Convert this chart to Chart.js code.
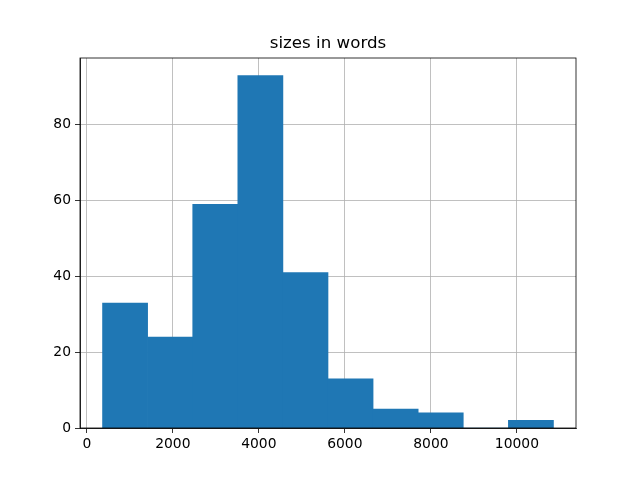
<!DOCTYPE html>
<html>
<head>
<meta charset="utf-8">
<script src="https://cdn.jsdelivr.net/npm/chart.js@4.4.1/dist/chart.umd.min.js"></script>
<style>
  html, body { margin: 0; padding: 0; background: #fff; }
  #wrap { width: 640px; height: 480px; }
</style>
</head>
<body>
<div id="wrap"><canvas id="chart_hist" width="640" height="480"></canvas></div>
<script>
// histogram of sizes in words, bins
const binEdges = [366, 1414, 2463, 3511, 4560, 5608, 6656, 7705, 8753, 9802, 10850];
const counts = [33, 24, 59, 93, 41, 13, 5, 4, 0, 2];
const xTicks = [0, 2000, 4000, 6000, 8000, 10000];
const yTicks = [0, 20, 40, 60, 80];

// bars sit at bin centres, width comes from spacing
const points = counts.map((c, i) => ({ x: (binEdges[i] + binEdges[i + 1]) / 2, y: c }));
const span = binEdges[binEdges.length - 1] - binEdges[0];

// top and right spines like matplotlib
const frame = {
    id: 'frame',
    afterDraw(chart) {
        const a = chart.chartArea, c = chart.ctx;
        c.save();
        c.strokeStyle = '#000';
        c.lineWidth = 0.8;
        c.strokeRect(a.left, a.top, a.right - a.left, a.bottom - a.top);
        c.restore();
    }
};

const ctx = document.getElementById('chart_hist').getContext('2d');
new Chart(ctx, {
    type: 'bar',
    data: {
        datasets: [{
            label: 'sizes in words',
            data: points,
            backgroundColor: '#1f77b4',
            borderWidth: 0,
            barPercentage: 1,
            categoryPercentage: 1
        }]
    },
    options: {
        responsive: false,
        animation: false,
        layout: { padding: { left: 0, right: 64, top: 0, bottom: 0 } },
        plugins: {
            legend: { display: false },
            tooltip: { enabled: false },
            title: {
                display: true,
                text: 'sizes in words',
                fullSize: false,
                color: '#000',
                font: { family: 'DejaVu Sans', size: 16.67, weight: 'normal' },
                padding: { top: 34, bottom: 4 }
            }
        },
        scales: {
            x: {
                type: 'linear',
                z: 1,
                offset: false,
                min: binEdges[0] - span * 0.05,
                max: binEdges[binEdges.length - 1] + span * 0.05,
                afterFit: s => { s.height = 52; },
                afterBuildTicks: s => { s.ticks = xTicks.map(v => ({ value: v })); },
                ticks: {
                    includeBounds: false,
                    color: '#000',
                    padding: 3,
                    maxRotation: 0,
                    font: { family: 'DejaVu Sans', size: 13.89 },
                    callback: v => String(v)
                },
                grid: { offset: false, color: '#b0b0b0', lineWidth: 0.8, tickColor: '#000', tickLength: 5, tickWidth: 0.8 },
                border: { color: '#000', width: 0.8 }
            },
            y: {
                z: 1,
                min: 0,
                max: 93 * 1.05,
                afterFit: s => { s.width = 80; },
                afterBuildTicks: s => { s.ticks = yTicks.map(v => ({ value: v })); },
                ticks: {
                    color: '#000',
                    padding: 4,
                    font: { family: 'DejaVu Sans', size: 13.89 },
                    callback: v => String(v)
                },
                grid: { color: '#b0b0b0', lineWidth: 0.8, tickColor: '#000', tickLength: 5, tickWidth: 0.8 },
                border: { color: '#000', width: 0.8 }
            }
        }
    },
    plugins: [frame]
});
</script>
</body>
</html>
